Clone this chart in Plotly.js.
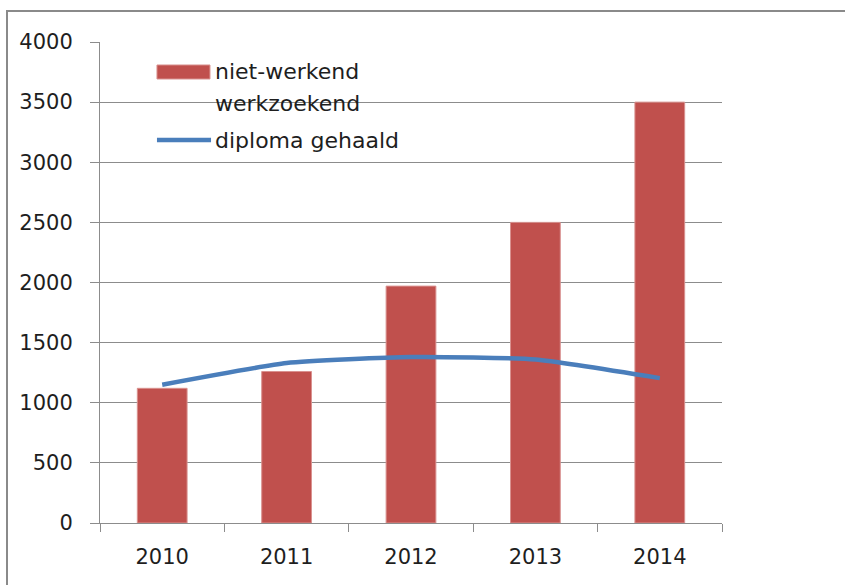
<!DOCTYPE html>
<html>
<head>
<meta charset="utf-8">
<script src="https://cdn.plot.ly/plotly-3.0.1.min.js"></script>
<style>
  html, body { margin: 0; padding: 0; background: #fff; }
  #wrap { position: relative; width: 845px; height: 585px; overflow: hidden; }
  #frame { position: absolute; left: 6px; top: 10px; width: 900px; height: 700px;
           border-top: 2px solid #8a8a8a; border-left: 2px solid #8a8a8a; pointer-events: none; }
  #chart { position: absolute; left: 0; top: 0; width: 845px; height: 585px; }
</style>
</head>
<body>
<div id="wrap">
  <div id="chart"></div>
  <div id="frame"></div>
</div>
<script>
const years = ['2010', '2011', '2012', '2013', '2014'];
const werkzoekend = [1120, 1260, 1970, 2500, 3500];
const diploma = [1150, 1330, 1380, 1360, 1205];
const barName = ['niet-werkend', 'werkzoekend'];
const lineName = 'diploma gehaald';
const yTicks = [0, 500, 1000, 1500, 2000, 2500, 3000, 3500, 4000];

const barColor = '#c0504d';
const lineColor = '#4a7ebb';
const gridColor = '#8c8c8c';
const fontFam = 'DejaVu Sans, sans-serif';
const textColor = '#1e1e1e';

const traces = [
  {
    type: 'bar', x: years, y: werkzoekend, name: barName.join(' '),
    marker: { color: barColor, line: { color: '#d9918f', width: 1 } },
    showlegend: false, hoverinfo: 'x+y'
  },
  {
    type: 'scatter', mode: 'lines', x: years, y: diploma, name: lineName,
    line: { color: lineColor, width: 4.5, shape: 'spline', smoothing: 0.5 },
    showlegend: false
  }
];

const layout = {
  width: 845, height: 585,
  margin: { l: 100, r: 123, t: 42, b: 62 },
  paper_bgcolor: '#ffffff', plot_bgcolor: '#ffffff',
  font: { family: fontFam, size: 21, color: textColor },
  bargap: 0.6,
  showlegend: false,
  xaxis: {
    type: 'category', range: [-0.5, 4.5],
    showline: true, linecolor: gridColor, linewidth: 1,
    ticks: 'outside', tickson: 'boundaries', ticklen: 8, tickcolor: gridColor, tickwidth: 1,
    showgrid: false, zeroline: false,
    tickfont: { family: fontFam, size: 21, color: textColor },
    ticklabelstandoff: 15
  },
  yaxis: {
    range: [0, 4000], tickvals: yTicks, ticktext: yTicks.map(String),
    showline: true, linecolor: gridColor, linewidth: 1,
    ticks: 'outside', ticklen: 9, tickcolor: gridColor, tickwidth: 1,
    showgrid: true, gridcolor: gridColor, gridwidth: 1,
    zeroline: false,
    tickfont: { family: fontFam, size: 21, color: textColor },
    ticklabelstandoff: 13
  },
  shapes: [
    { type: 'rect', xref: 'paper', yref: 'paper', x0: 0.0916, x1: 0.1768, y0: 0.9231, y1: 0.9522,
      fillcolor: barColor, line: { color: '#d9918f', width: 1 } },
    { type: 'line', xref: 'paper', yref: 'paper', x0: 0.0916, x1: 0.1785, y0: 0.7963, y1: 0.7963,
      line: { color: lineColor, width: 4.5 } }
  ],
  annotations: [
    { xref: 'paper', yref: 'paper', x: 0.1817, y: 0.9390, xanchor: 'left', yanchor: 'middle',
      text: barName[0], showarrow: false, font: { family: fontFam, size: 22, color: textColor } },
    { xref: 'paper', yref: 'paper', x: 0.1817, y: 0.8725, xanchor: 'left', yanchor: 'middle',
      text: barName[1], showarrow: false, font: { family: fontFam, size: 22, color: textColor } },
    { xref: 'paper', yref: 'paper', x: 0.1817, y: 0.7950, xanchor: 'left', yanchor: 'middle',
      text: lineName, showarrow: false, font: { family: fontFam, size: 22, color: textColor } }
  ]
};

Plotly.newPlot('chart', traces, layout, { displayModeBar: false, staticPlot: true });
</script>
</body>
</html>
